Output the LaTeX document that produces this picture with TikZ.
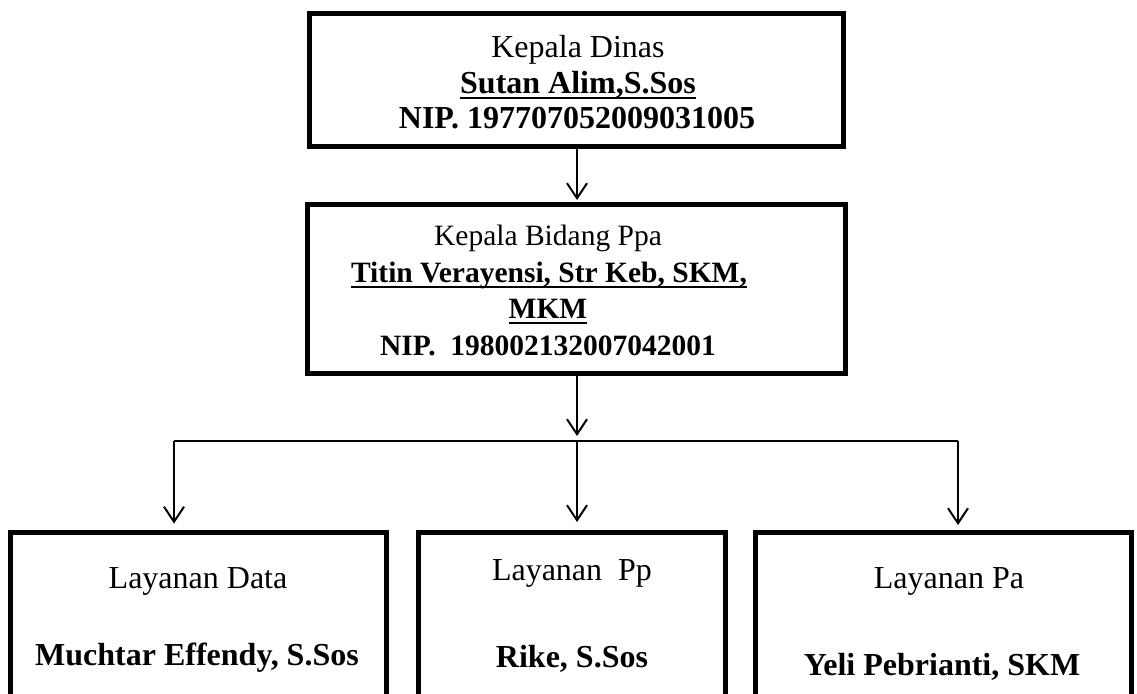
\documentclass[tikz,border=0pt]{standalone}
\usepackage{fontspec}
\setmainfont{Liberation Serif}
\usetikzlibrary{arrows.meta}
\newsavebox\myulbox
\newcommand\myul[1]{\sbox\myulbox{#1}\rlap{\usebox\myulbox}\rule[-5.5pt]{\wd\myulbox}{2pt}}
\begin{document}
\begin{tikzpicture}[x=1pt,y=-1pt,
  box/.style={draw, line width=5pt, inner sep=0pt, outer sep=0pt, anchor=north west},
  conn/.style={line width=2pt},
  arr/.style={conn, -{Straight Barb[length=15pt,width=20pt]}},
  txt/.style={anchor=base, inner sep=0pt, font=\fontsize{32pt}{36pt}\selectfont},
  txtb/.style={txt, font=\fontsize{32pt}{36pt}\selectfont\bfseries},
  stxt/.style={anchor=base, inner sep=0pt, font=\fontsize{29.5pt}{36pt}\selectfont},
  stxtb/.style={stxt, font=\fontsize{29.5pt}{36pt}\selectfont\bfseries}]
\clip (0,0) rectangle (1137,693);
\fill[white] (0,0) rectangle (1137,693);
% boxes
\node[box, minimum width=534pt, minimum height=132pt] (kadis) at (309.5,14) {};
\node[box, minimum width=537.5pt, minimum height=169pt] (kabid) at (307.5,204.5) {};
\node[box, minimum width=375.5pt, minimum height=230pt] (lay1) at (10.5,532) {};
\node[box, minimum width=307.5pt, minimum height=230pt] (lay2) at (418,532) {};
\node[box, minimum width=376pt, minimum height=230pt] (lay3) at (755,532) {};
% texts
\node[txt] (k1) at (578,58) {Kepala Dinas};
\node[txtb] (k2) at (578,93) {\myul{Sutan Alim,S.Sos}};
\node[txtb] (k3) at (577,128) {NIP. 197707052009031005};
\node[stxt] (b1) at (548,245) {Kepala Bidang Ppa};
\node[stxtb] (b2) at (549,282) {\myul{Titin Verayensi, Str Keb, SKM,}};
\node[stxtb] (b3) at (548,318) {\myul{MKM}};
\node[stxtb] (b4) at (548,355) {NIP.\ \ 198002132007042001};
\node[txt] (l1a) at (198,588) {Layanan Data};
\node[txtb] (l1b) at (197,665) {Muchtar Effendy, S.Sos};
\node[txt] (l2a) at (572,580) {Layanan\ \ Pp};
\node[txtb] (l2b) at (572,667) {Rike, S.Sos};
\node[txt] (l3a) at (949,588) {Layanan Pa};
\node[txtb] (l3b) at (942,675) {Yeli Pebrianti, SKM};
% connectors
\coordinate (busl) at (174,441);
\coordinate (busc) at (577,441);
\coordinate (busr) at (958,441);
\draw[arr, shorten >=4.5pt] (kadis.south -| busc) -- (busc |- kabid.north);
\draw[arr, shorten >=5pt] (kabid.south -| busc) -- (busc);
\draw[conn] (busl) -- (busr);
\draw[arr, shorten >=8.5pt] (busl) -- (busl |- lay1.north);
\draw[arr, shorten >=10pt] (busc) -- (busc |- lay2.north);
\draw[arr, shorten >=7pt] (busr) -- (busr |- lay3.north);
\end{tikzpicture}
\end{document}
